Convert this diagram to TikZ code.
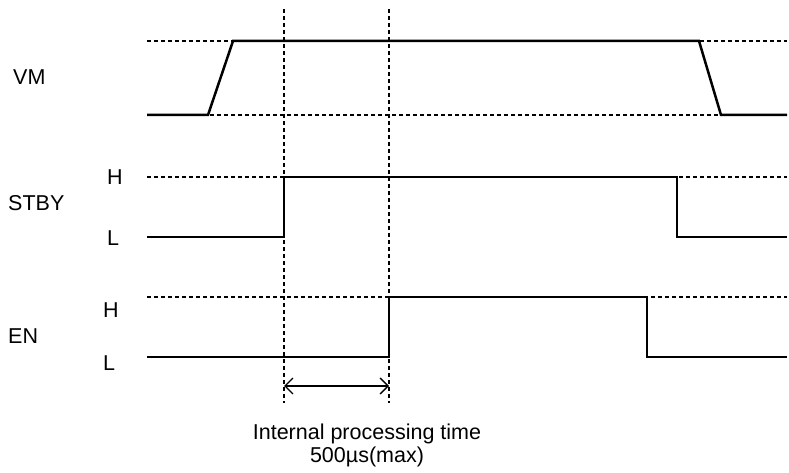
\documentclass[tikz,border=0pt]{standalone}
\usepackage{fontspec}
\setmainfont{Liberation Sans}
\usetikzlibrary{arrows.meta,positioning}

\tikzset{
  signal/.style={line width=2.5pt,line join=miter},
  level/.style={line width=1.6pt,dash pattern=on 4pt off 3pt},
  guide/.style={line width=1.6pt,dash pattern=on 4pt off 3pt},
  span/.style={line width=1.3pt,{Straight Barb[length=8pt,width=16pt]}-{Straight Barb[length=8pt,width=16pt]}}
}

\begin{document}
\begin{tikzpicture}[x=1pt,y=-1pt,inner sep=0pt,font=\fontsize{21.5}{23}\selectfont]
\useasboundingbox (0,0) rectangle (789,473);

% signal names and levels
\node[anchor=base west] (vm) at (13,85) {VM};
\node[anchor=base west] (stby) at (8,210) {STBY};
\node[anchor=base west] (stbyh) at (107,185) {H};
\node[anchor=base west] (stbyl) at (107,245) {L};
\node[anchor=base west] (en) at (8,343) {EN};
\node[anchor=base west] (enh) at (103,317) {H};
\node[anchor=base west] (enl) at (103,370) {L};

% timing marks
\coordinate (t1) at (284,386);
\coordinate (t2) at (389,386);
\draw[guide] (284,9) -- (284,403);
\draw[guide] (389,9) -- (389,403);

% dotted levels
\draw[level] (147,41) -- (787,41);
\draw[level] (147,115) -- (787,115);
\draw[level] (147,177) -- (787,177);
\draw[level] (147,297) -- (787,297);

% VM
\draw[signal] (147,115) -- (208,115) -- (233,41) -- (699,41) -- (721,115) -- (787,115);

% STBY
\draw[signal] (147,237) -- (284,237) -- (284,177) -- (677,177) -- (677,237) -- (787,237);

% EN
\draw[signal] (147,357) -- (389,357) -- (389,297) -- (647,297) -- (647,357) -- (787,357);

\draw[span] (t1) -- (t2);
\node[align=center,anchor=north] (proc) at (367,424) {Internal processing time\\500µs(max)};

\end{tikzpicture}
\end{document}
